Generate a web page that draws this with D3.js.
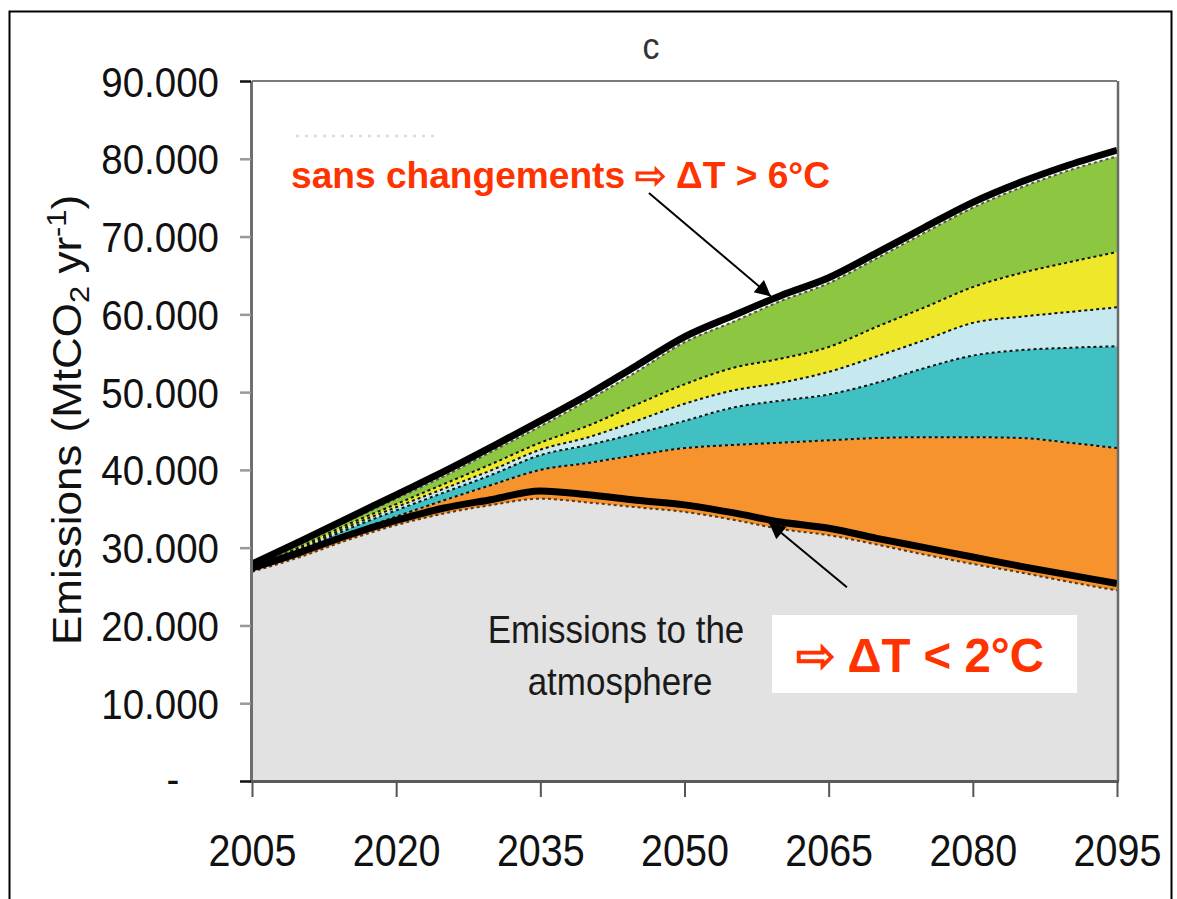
<!DOCTYPE html>
<html>
<head>
<meta charset="utf-8">
<script src="https://cdn.jsdelivr.net/npm/d3@7"></script>
<style>
  html, body { margin: 0; padding: 0; background: #fff; }
  svg { display: block; }
  text { font-family: "Liberation Sans", Arial, Helvetica, sans-serif; }
</style>
</head>
<body>
<svg id="chart" width="1177" height="899"></svg>
<script>
// ---- Data (MtCO2 per year) ----
const years = [2005, 2010, 2015, 2020, 2025, 2030, 2035, 2040, 2045, 2050,
               2055, 2060, 2065, 2070, 2075, 2080, 2085, 2090, 2095];

// Emissions released to the atmosphere (grey base layer)
const atmosphere = [26900, 28800, 31000, 32900, 34400, 35500, 36300, 35800, 35200, 34600,
                    33600, 32400, 31600, 30400, 29100, 27900, 26800, 25600, 24500];
// Stacked reduction wedges, bottom to top
const wedgeOrange = [100, 500, 800, 1100, 1700, 2600, 3700, 5100, 6700, 8200,
                     9600, 11100, 12200, 13700, 15100, 16300, 17300, 17900, 18300];
const wedgeTeal = [100, 400, 600, 800, 1000, 1300, 1900, 2300, 2800, 3500,
                   4800, 5400, 5900, 7100, 8900, 10500, 11300, 12200, 13100];
const wedgeLightBlue = [100, 200, 300, 400, 500, 600, 700, 1000, 1600, 2200,
                        2200, 2300, 2900, 3400, 3600, 4200, 4300, 4600, 5000];
const wedgeYellow = [100, 200, 300, 400, 600, 800, 900, 1500, 2100, 2500,
                     2900, 3100, 3200, 3800, 4200, 4600, 5600, 6400, 7100];
const wedgeGreen = [100, 300, 400, 700, 1000, 1600, 2100, 3300, 4200, 5400,
                    5900, 7400, 8200, 8800, 9600, 10200, 11000, 11800, 12300];

// Business-as-usual path ("sans changements") and the < 2 °C path
const baselinePath = [27900, 30800, 33800, 36800, 39800, 43000, 46300, 49700, 53400, 57100,
                      59800, 62400, 64700, 67900, 71200, 74400, 77000, 79200, 81100];
const twoDegreePath = [27400, 29400, 31600, 33500, 35100, 36200, 37300, 36800, 36100, 35500,
                       34500, 33300, 32500, 31200, 30000, 28800, 27600, 26500, 25400];

// Axis ticks
const yearTicks = [2005, 2020, 2035, 2050, 2065, 2080, 2095];
const valueTicks = [0, 10000, 20000, 30000, 40000, 50000, 60000, 70000, 80000, 90000];

// ---- Layer setup ----
const layerKeys = ["atmosphere", "orange", "teal", "lightblue", "yellow", "green"];
const layerColors = {
  atmosphere: "#E2E2E2",
  orange: "#F7932D",
  teal: "#40C0C3",
  lightblue: "#C6E9F0",
  yellow: "#EFE82A",
  green: "#8DC641"
};
const rows = years.map((yr, i) => ({
  year: yr,
  atmosphere: atmosphere[i],
  orange: wedgeOrange[i],
  teal: wedgeTeal[i],
  lightblue: wedgeLightBlue[i],
  yellow: wedgeYellow[i],
  green: wedgeGreen[i]
}));
const stacked = d3.stack().keys(layerKeys)(rows);

// ---- Scales ----
const plot = { left: 252, right: 1117, top: 81, bottom: 781 };
const x = d3.scaleLinear().domain([2005, 2095]).range([plot.left, plot.right]);
const y = d3.scaleLinear().domain([0, 90000]).range([plot.bottom, plot.top]);

const svg = d3.select("#chart");
const RED = "#FF3300";

// Outer frame
svg.append("rect")
  .attr("x", 9.5).attr("y", 11.5)
  .attr("width", 1162).attr("height", 900)
  .attr("fill", "none").attr("stroke", "#000").attr("stroke-width", 2);

// Panel letter
svg.append("text")
  .attr("transform", "translate(651,59) scale(1,1.1)")
  .attr("text-anchor", "middle")
  .attr("font-size", 34)
  .attr("fill", "#333")
  .text("c");

// ---- Stacked areas ----
const area = d3.area()
  .x(d => x(d.data.year))
  .y0(d => y(d[0]))
  .y1(d => y(d[1]))
  .curve(d3.curveMonotoneX);

const topEdge = d3.line()
  .x(d => x(d.data.year))
  .y(d => y(d[1]))
  .curve(d3.curveMonotoneX);

const gLayers = svg.append("g");
gLayers.selectAll("path.layer")
  .data(stacked)
  .join("path")
  .attr("class", "layer")
  .attr("fill", d => layerColors[d.key])
  .attr("d", area);

// Dashed boundaries on top of each layer
gLayers.selectAll("path.edge")
  .data(stacked)
  .join("path")
  .attr("class", "edge")
  .attr("fill", "none")
  .attr("stroke", d => d.key === "green" ? "#555" : (d.key === "atmosphere" ? "#5a3a1a" : "#111"))
  .attr("stroke-width", 2)
  .attr("stroke-dasharray", "3,3")
  .attr("d", topEdge);

// ---- Scenario lines ----
const pathLine = d3.line()
  .x((d, i) => x(years[i]))
  .y(d => y(d))
  .curve(d3.curveMonotoneX);

svg.append("path")
  .attr("fill", "none").attr("stroke", "#000").attr("stroke-width", 7)
  .attr("d", pathLine(twoDegreePath));
svg.append("path")
  .attr("fill", "none").attr("stroke", "#000").attr("stroke-width", 7)
  .attr("d", pathLine(baselinePath));

// ---- Plot frame ----
svg.append("line")
  .attr("x1", plot.left).attr("x2", plot.right)
  .attr("y1", plot.top).attr("y2", plot.top)
  .attr("stroke", "#7a7a7a").attr("stroke-width", 2);
svg.append("line")
  .attr("x1", plot.right + 1).attr("x2", plot.right + 1)
  .attr("y1", plot.top).attr("y2", plot.bottom)
  .attr("stroke", "#6a6a6a").attr("stroke-width", 2.5);
svg.append("line")
  .attr("x1", plot.left - 0.5).attr("x2", plot.left - 0.5)
  .attr("y1", plot.top).attr("y2", plot.bottom + 1.5)
  .attr("stroke", "#6e6e6e").attr("stroke-width", 3);
svg.append("line")
  .attr("x1", plot.left - 2).attr("x2", plot.right + 2)
  .attr("y1", plot.bottom + 0.5).attr("y2", plot.bottom + 0.5)
  .attr("stroke", "#5a5a5a").attr("stroke-width", 3);

// ---- Y axis ----
const fmtValue = v => v === 0 ? "-" : d3.format(",")(v).replace(/,/g, ".");
const yAxis = svg.append("g")
  .attr("transform", `translate(${plot.left - 1},0)`)
  .call(d3.axisLeft(y).tickValues(valueTicks).tickSize(11).tickFormat(fmtValue));
yAxis.attr("font-size", null).attr("font-family", null);
yAxis.select(".domain").remove();
yAxis.selectAll(".tick line")
  .attr("stroke", d => (d === 0 || d === 90000) ? "#111" : "#999")
  .attr("stroke-width", 2.5);
yAxis.selectAll(".tick text")
  .attr("x", null).attr("dy", null)
  .attr("font-size", 38.5)
  .attr("fill", "#111")
  .attr("text-anchor", d => d === 0 ? "middle" : "end")
  .attr("transform", d => d === 0 ? "translate(-78,12) scale(1,1.1)" : "translate(-32,15) scale(1,1.1)");

// Y axis title
const yTitle = svg.append("text")
  .attr("transform", "translate(81,420) rotate(-90) scale(1.1,1)")
  .attr("text-anchor", "middle")
  .attr("font-size", 40)
  .attr("fill", "#111");
yTitle.append("tspan").text("Emissions (MtCO");
yTitle.append("tspan").attr("font-size", 28).attr("dy", 8).text("2");
yTitle.append("tspan").attr("dy", -8).text(" yr");
yTitle.append("tspan").attr("font-size", 28).attr("dy", -15).text("-1");
yTitle.append("tspan").attr("dy", 15).text(")");

// ---- X axis ----
const xAxis = svg.append("g")
  .attr("transform", `translate(0,${plot.bottom + 1})`)
  .call(d3.axisBottom(x).tickValues(yearTicks).tickSize(15).tickFormat(d3.format("d")));
xAxis.attr("font-size", null).attr("font-family", null);
xAxis.select(".domain").remove();
xAxis.selectAll(".tick line").attr("stroke", "#555").attr("stroke-width", 2);
xAxis.selectAll(".tick text")
  .attr("y", null).attr("dy", null)
  .attr("font-size", 39.5)
  .attr("fill", "#111")
  .attr("text-anchor", "middle")
  .attr("transform", "translate(0,84) scale(1,1.13)");

// ---- Annotations ----
const defs = svg.append("defs");
defs.append("marker")
  .attr("id", "head")
  .attr("viewBox", "0 0 10 10")
  .attr("refX", 10).attr("refY", 5)
  .attr("markerWidth", 20).attr("markerHeight", 16)
  .attr("markerUnits", "userSpaceOnUse")
  .attr("orient", "auto")
  .append("path")
  .attr("d", "M0,0 L10,5 L0,10 Z")
  .attr("fill", "#000");

// faint trace above the upper label
svg.append("line")
  .attr("x1", 296).attr("x2", 440).attr("y1", 136).attr("y2", 136)
  .attr("stroke", "#dcdcdc").attr("stroke-width", 2.5)
  .attr("stroke-dasharray", "3,6");

// Upper label and arrow to the business-as-usual path
svg.append("text")
  .attr("transform", "translate(291,188) scale(1,1.08)")
  .attr("font-size", 34)
  .attr("font-weight", "bold")
  .attr("fill", RED)
  .attr("textLength", 539)
  .attr("lengthAdjust", "spacingAndGlyphs")
  .text("sans changements \u21E8 \u0394T > 6°C");

svg.append("line")
  .attr("x1", x(2046.3)).attr("y1", y(75600))
  .attr("x2", x(2059.0)).attr("y2", y(62300))
  .attr("stroke", "#000").attr("stroke-width", 2)
  .attr("marker-end", "url(#head)");

// Lower arrow to the < 2 °C path
svg.append("line")
  .attr("x1", x(2066.9)).attr("y1", y(24900))
  .attr("x2", x(2058.8)).attr("y2", y(33200))
  .attr("stroke", "#000").attr("stroke-width", 2)
  .attr("marker-end", "url(#head)");

// Layer label
svg.append("text")
  .attr("transform", "translate(616,643) scale(1,1.12)")
  .attr("text-anchor", "middle")
  .attr("font-size", 35)
  .attr("fill", "#1a1a1a")
  .text("Emissions to the");
svg.append("text")
  .attr("transform", "translate(620,695) scale(1,1.12)")
  .attr("text-anchor", "middle")
  .attr("font-size", 35)
  .attr("fill", "#1a1a1a")
  .text("atmosphere");

// Boxed < 2 °C label
svg.append("rect")
  .attr("x", 772).attr("y", 615)
  .attr("width", 305).attr("height", 78)
  .attr("fill", "#fff");
svg.append("text")
  .attr("transform", "translate(796,672) scale(1,1.1)")
  .attr("font-size", 44)
  .attr("font-weight", "bold")
  .attr("fill", RED)
  .attr("textLength", 248)
  .attr("lengthAdjust", "spacingAndGlyphs")
  .text("\u21E8 \u0394T < 2°C");
</script>
</body>
</html>
